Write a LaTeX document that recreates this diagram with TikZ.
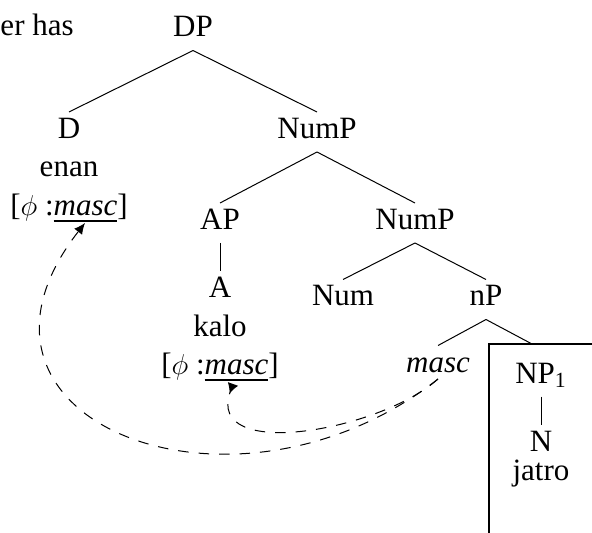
\documentclass[tikz,border=0pt]{standalone}
\usepackage{fontspec}
\setmainfont{Liberation Serif}
\usetikzlibrary{arrows.meta}

\newcommand\featul[1]{\setbox0\hbox{#1}\rlap{\rule[-3.3pt]{\wd0}{1.1pt}}\box0}

\begin{document}
\begin{tikzpicture}[x=0.5pt, y=-0.5pt, line width=0.5pt,
    font=\fontsize{15.5}{18}\selectfont,
    cat/.style = {anchor=base, inner sep=2.5pt, text height=10.5pt, text depth=4pt},
    node distance=19.25pt,
    agree/.style = {dash pattern=on 5.25pt off 5pt}]
    \useasboundingbox (0,0) rectangle (592,533);

    \node[anchor=base west, inner sep=0] (prev) at (0,36) {er has};

    \node[cat] (DP) at (193,37) {DP};
    \node[cat] (D) at (69,138.5) {D};
    \node[cat] (enan) [below of=D] {enan};
    \node[cat] (featD) [below of=enan] {[$\phi$ :\featul{\textit{masc}}]};
    \node[cat] (NumP) at (317,138.5) {NumP};
    \node[cat] (AP) at (220,229.5) {AP};
    \node[cat] (A) [node distance=34pt, below of=AP] {A};
    \node[cat] (kalo) [below of=A] {kalo};
    \node[cat] (featA) [below of=kalo] {[$\phi$ :\featul{\textit{masc}}]};
    \node[cat] (NumPb) at (415,229.5) {NumP};
    \node[cat] (Num) at (343,306) {Num};
    \node[cat] (nP) at (486,306) {nP};
    \node[cat] (masc) at (438,372) {\textit{masc}};
    \node[cat] (NP) at (541,383) {NP\textsubscript{1}};
    \node[cat] (N) [node distance=34pt, below of=NP] {N};
    \node[cat] (jatro) [node distance=14.5pt, below of=N] {jatro};

    % box round the NP
    \coordinate (boxtop) at (532,344);
    \draw[line width=1pt] (489,560) -- (489,344) -- (610,344);

    \draw (DP.south) -- (D.north);
    \draw (DP.south) -- (NumP.north);
    \draw (NumP.south) -- (AP.north);
    \draw (NumP.south) -- (NumPb.north);
    \draw (AP.south) -- (A.north);
    \draw (NumPb.south) -- (Num.north);
    \draw (NumPb.south) -- (nP.north);
    \draw (nP.south) -- (masc.north);
    \draw (nP.south) -- (boxtop);
    \draw (NP.south) -- (N.north);

    % agreement arrows
    \coordinate (src) at (438,379);
    \coordinate (tgtD) at (85,223);
    \coordinate (tgtA) at (233,384);
    \draw[agree, -{Latex[length=5.5pt,width=5pt]}] (src) .. controls (232,540) and (-69,420) .. (tgtD);
    \draw[agree, -{Latex[reversed,length=5pt,width=5.5pt]}] (src) .. controls (380,431) and (205,462) .. (tgtA);
\end{tikzpicture}
\end{document}
